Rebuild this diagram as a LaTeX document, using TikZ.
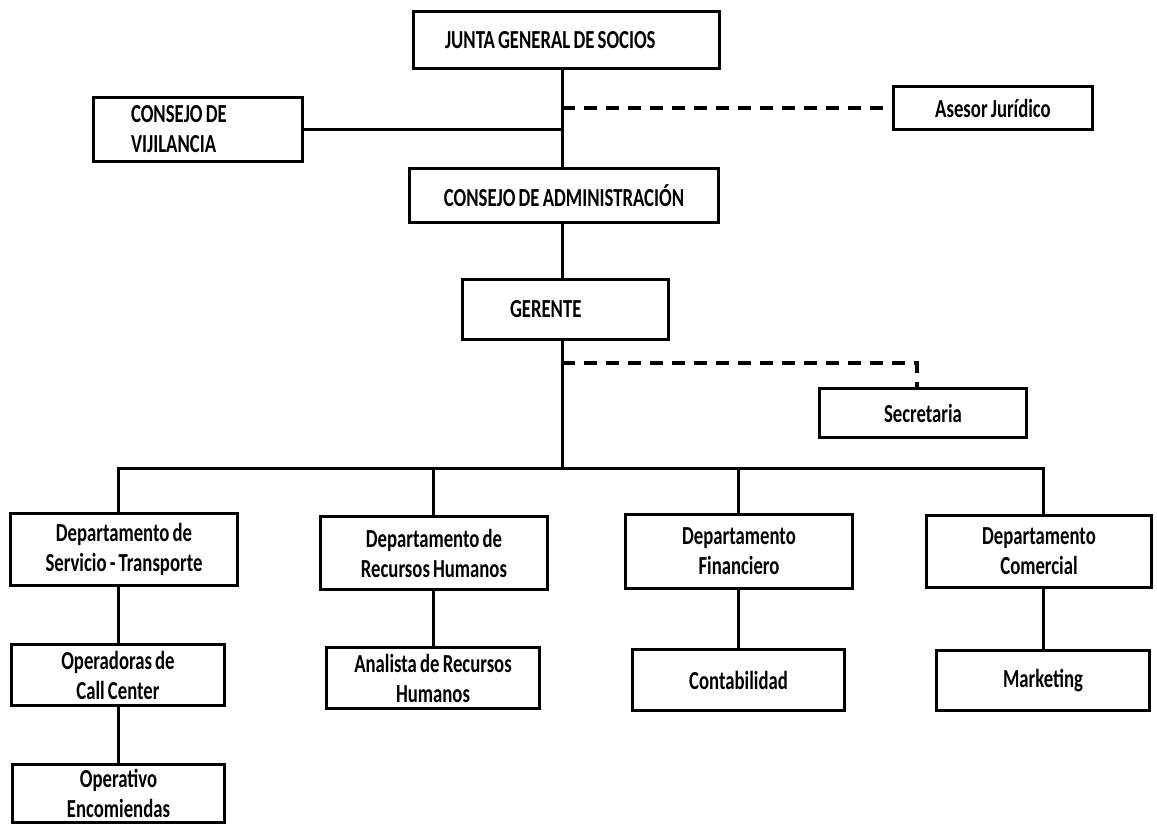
\documentclass[tikz,border=0pt]{standalone}
\usepackage{fontspec}
\setmainfont{Carlito}[FakeStretch=0.72, WordSpace=0.75]
\usepackage{tikz}
\usetikzlibrary{positioning,calc}

\begin{document}
\begin{tikzpicture}[
  x=1pt, y=-1pt,
  orgbox/.style={draw=black, line width=3pt, inner sep=0pt, align=center,
    font=\bfseries\fontsize{26}{30}\selectfont},
  orgline/.style={draw=black, line width=3pt, line cap=rect},
  dashline/.style={draw=black, line width=3.5pt, dash pattern=on 13pt off 9pt}
]
  \useasboundingbox (0,0) rectangle (1157,825);
  % top of the chart
  \node[orgbox, minimum width=306pt, minimum height=57pt] (junta) at (566.5,40) {\makebox[243pt][l]{JUNTA GENERAL DE SOCIOS}};
  \node[orgbox, minimum width=209pt, minimum height=64pt] (vijil) at (198,129.5) {\makebox[134pt][l]{CONSEJO DE}\\\makebox[134pt][l]{VIJILANCIA}};
  \node[orgbox, minimum width=199pt, minimum height=43pt] (asesor) at (993,108) {Asesor Jurídico};
  \node[orgbox, minimum width=309pt, minimum height=54pt] (admin) at (564,195.5) {CONSEJO DE ADMINISTRACIÓN};
  \node[orgbox, minimum width=206pt, minimum height=60pt] (gerente) at (565.5,309.5) {\makebox[111pt][l]{GERENTE}};
  \node[orgbox, minimum width=207pt, minimum height=49pt] (secre) at (923,413) {Secretaria};
  % departments
  \node[orgbox, minimum width=227pt, minimum height=72pt] (serv) at (124,549.5) {Departamento de\\Servicio - Transporte};
  \node[orgbox, minimum width=227pt, minimum height=73pt] (rrhh) at (434,553) {Departamento de\\Recursos Humanos};
  \node[orgbox, minimum width=227pt, minimum height=74pt] (finan) at (739,551.5) {Departamento\\Financiero};
  \node[orgbox, minimum width=225pt, minimum height=72pt] (comer) at (1039,551.5) {Departamento\\Comercial};
  % units below the departments
  \node[orgbox, minimum width=213pt, minimum height=61pt] (callc) at (118,675) {Operadoras de\\Call Center};
  \node[orgbox, minimum width=213pt, minimum height=61pt] (anali) at (433,678) {Analista de Recursos\\Humanos};
  \node[orgbox, minimum width=212pt, minimum height=61pt] (conta) at (738.5,680) {Contabilidad};
  \node[orgbox, minimum width=213pt, minimum height=60pt] (marke) at (1043,680.5) {Marketing};
  \node[orgbox, minimum width=212pt, minimum height=58pt] (encom) at (118.5,793.5) {Operativo\\Encomiendas};

  \coordinate (spine) at (562,0);
  \coordinate (secjoin) at (562,363);
  \coordinate (bus) at (562,468);

  % main spine
  \draw[orgline] (junta.south -| spine) -- (admin.north -| spine);
  \draw[orgline] (admin.south -| spine) -- (gerente.north -| spine);
  \draw[orgline] (gerente.south -| spine) -- (bus);
  \draw[orgline] (vijil.east) -- (vijil.east -| spine);
  \draw[dashline] (asesor.west -| spine) -- (asesor.west);
  \draw[dashline] (secjoin) -| ([xshift=-6pt]secre.north);
  % bus and drops
  \draw[orgline] (bus -| callc.north) -- (bus -| marke.north);
  \foreach \up/\low in {serv/callc, rrhh/anali, finan/conta, comer/marke}
    \draw[orgline] (bus -| \low.north) -- (\up.north -| \low.north);
  \foreach \up/\low in {serv/callc, rrhh/anali, finan/conta, comer/marke, callc/encom}
    \draw[orgline] (\low.north) -- (\up.south -| \low.north);
\end{tikzpicture}
\end{document}
